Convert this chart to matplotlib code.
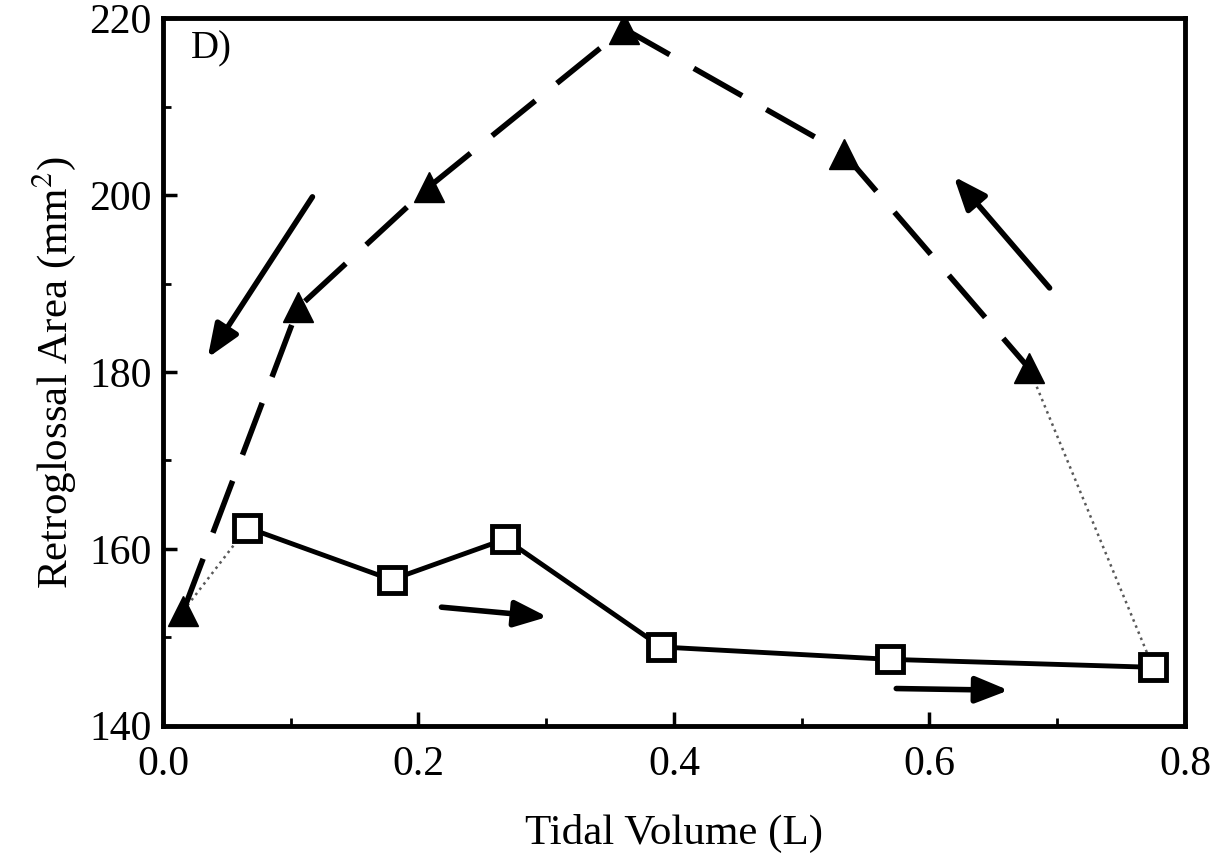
import matplotlib
matplotlib.use('Agg')
import matplotlib.pyplot as plt
from matplotlib.ticker import MultipleLocator

# --- data ---
# open squares, solid line
sq_x = [0.066, 0.179, 0.268, 0.390, 0.569, 0.775]
sq_y = [162.4, 156.5, 161.1, 148.9, 147.5, 146.6]

# filled triangles, dashed line
tri_x = [0.016, 0.106, 0.208, 0.361, 0.533, 0.678]
tri_y = [153.0, 187.3, 200.9, 218.8, 204.7, 180.4]

# direction arrows (tail -> head), data coords
arrow_tails = [(0.117, 199.8), (0.694, 189.5), (0.218, 153.4), (0.574, 144.2)]
arrow_heads = [(0.035, 181.6), (0.619, 202.1), (0.301, 152.3), (0.662, 144.0)]

x_ticks = [0.0, 0.2, 0.4, 0.6, 0.8]
y_ticks = [140, 160, 180, 200, 220]

plt.rcParams['font.family'] = ['Liberation Serif', 'DejaVu Serif']
plt.rcParams['mathtext.fontset'] = 'stix'

fig = plt.figure(figsize=(12.29, 8.67), dpi=100)
ax = fig.add_axes([0.1326, 0.163, 0.8316, 0.816])

# dotted links between the two curves
ax.plot([tri_x[0], sq_x[0]], [tri_y[0], sq_y[0]], linestyle=':', color='0.35', lw=1.8, zorder=2)
ax.plot([tri_x[-1], sq_x[-1]], [tri_y[-1], sq_y[-1]], linestyle=':', color='0.35', lw=1.8, zorder=2)

ax.plot(tri_x, tri_y, color='black', lw=4, linestyle=(0, (10, 5)),
        marker='^', markersize=22, markerfacecolor='black', markeredgecolor='black', zorder=3)
ax.plot(sq_x, sq_y, color='black', lw=3.5, marker='s', markersize=19,
        markerfacecolor='white', markeredgecolor='black', markeredgewidth=3.5, zorder=4)

for (tx, ty), (hx, hy) in zip(arrow_tails, arrow_heads):
    ax.annotate('', xy=(hx, hy), xytext=(tx, ty),
                arrowprops=dict(arrowstyle='-|>,head_length=2.0,head_width=0.8',
                                lw=4, color='black', shrinkA=0, shrinkB=0))

ax.text(0.022, 216.5, 'D)', fontsize=28, ha='left', va='center')

ax.set_xlim(0.0, 0.8)
ax.set_ylim(140, 220)
ax.set_xticks(x_ticks)
ax.set_yticks(y_ticks)
ax.set_xticklabels([f'{v:.1f}' for v in x_ticks])
ax.xaxis.set_minor_locator(MultipleLocator(0.1))
ax.yaxis.set_minor_locator(MultipleLocator(10))
ax.tick_params(axis='both', which='major', direction='in', length=10, width=2.5,
               labelsize=30)
ax.tick_params(axis='x', which='major', pad=14)
ax.tick_params(axis='y', which='major', pad=8)
ax.tick_params(axis='both', which='minor', direction='in', length=6, width=2)

for s in ax.spines.values():
    s.set_linewidth(3.5)

ax.set_xlabel('Tidal Volume (L)', fontsize=31, labelpad=22)
ax.set_ylabel('Retroglossal Area (mm$^2$)', fontsize=31, labelpad=8)

fig.savefig('out.png', dpi=100)
